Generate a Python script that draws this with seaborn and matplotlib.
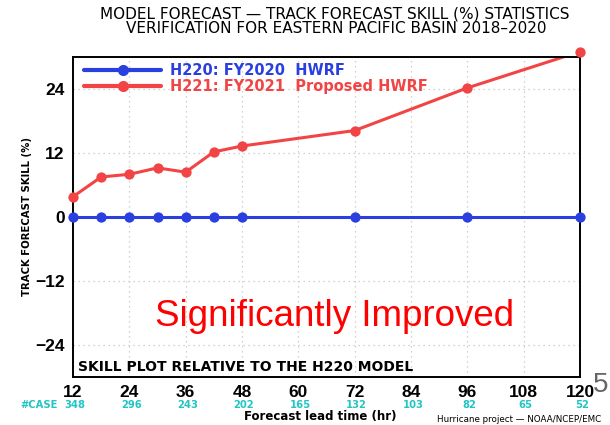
import numpy as np
import pandas as pd
import matplotlib
matplotlib.use("Agg")
import matplotlib.pyplot as plt
import seaborn as sns
from matplotlib.lines import Line2D

# data
lead_hours = [12, 18, 24, 30, 36, 42, 48, 72, 96, 120]
skill_h221 = [3.8, 7.5, 8.0, 9.2, 8.4, 12.2, 13.3, 16.2, 24.2, 31.0]
skill_h220 = [0, 0, 0, 0, 0, 0, 0, 0, 0, 0]
case_hours = [12, 24, 36, 48, 60, 72, 84, 96, 108, 120]
case_counts = [348, 296, 243, 202, 165, 132, 103, 82, 65, 52]
y_ticks = [-24, -12, 0, 12, 24]

red = "#f24444"
blue = "#2a3fe0"
cyan = "#22c4c4"
tickfont = "Liberation Sans"

sns.set_style("white")
plt.rcParams["font.family"] = ["DejaVu Sans"]
plt.rcParams["text.color"] = "black"
plt.rcParams["axes.labelcolor"] = "black"
plt.rcParams["xtick.color"] = "black"
plt.rcParams["ytick.color"] = "black"

fig = plt.figure(figsize=(6.1, 4.25), dpi=100)
ax = fig.add_axes([0.1197, 0.113, 0.8311, 0.753])

df = pd.DataFrame({"hour": lead_hours, "H221": skill_h221, "H220": skill_h220})

sns.lineplot(data=df, x="hour", y="H220", color=blue, linewidth=2.2, ax=ax)
sns.lineplot(data=df, x="hour", y="H221", color=red, linewidth=2.2, ax=ax)
for col, c in [("H220", blue), ("H221", red)]:
    sns.scatterplot(data=df, x="hour", y=col, color=c, s=55, edgecolor=c, linewidth=0, ax=ax, zorder=5)
for coll in ax.collections:
    coll.set_clip_on(False)

ax.set_xlim(12, 120)
ax.set_ylim(-30, 30)
ax.set_xticks(case_hours)
ax.set_yticks(y_ticks)
ax.tick_params(axis="both", width=1.2, length=4, direction="out", colors="black")
ax.tick_params(axis="x", length=0, pad=6)
ax.tick_params(axis="y", pad=2)
ax.set_xticklabels([str(h) for h in case_hours], fontsize=12.5, fontweight="bold", family=tickfont)
ax.set_yticklabels(["\u221224", "\u221212", "0", "12", "24"], fontsize=12.5, fontweight="bold", family=tickfont)
ax.grid(True, linestyle=(0, (1, 3)), color="#c4c4c4", linewidth=0.9)
for s in ax.spines.values():
    s.set_linewidth(1.4)
    s.set_color("black")
ax.set_xlabel("")
ax.set_ylabel("TRACK FORECAST SKILL (%)", fontsize=7.3, fontweight="bold")
ax.yaxis.set_label_coords(-0.08, 0.5)

# legend drawn like the original
handles = [Line2D([0], [0], color=blue, lw=3, marker="o", markersize=7),
           Line2D([0], [0], color=red, lw=3, marker="o", markersize=7)]
leg = ax.legend(handles, ["H220: FY2020  HWRF", "H221: FY2021  Proposed HWRF"],
                loc="upper left", frameon=False, fontsize=10.5, handlelength=5.3,
                handletextpad=0.6, labelspacing=0.1, borderaxespad=0.0,
                bbox_to_anchor=(0.01, 1.0))
for t, c in zip(leg.get_texts(), [blue, red]):
    t.set_color(c)
    t.set_fontweight("bold")

fig.text(0.549, 0.967, "MODEL FORECAST \u2014 TRACK FORECAST SKILL (%) STATISTICS",
         ha="center", va="center", fontsize=11)
fig.text(0.551, 0.933, "VERIFICATION FOR EASTERN PACIFIC BASIN 2018\u20132020",
         ha="center", va="center", fontsize=11)

ax.text(0.01, 0.031, "SKILL PLOT RELATIVE TO THE H220 MODEL", transform=ax.transAxes,
        fontsize=10, fontweight="bold", va="center")
ax.text(0.515, 0.19, "Significantly Improved", transform=ax.transAxes, color="#ff0000",
        fontsize=26.5, family="Liberation Sans", ha="center", va="center")

trans = matplotlib.transforms.blended_transform_factory(ax.transData, fig.transFigure)
for h, n in zip(case_hours, case_counts):
    ax.text(h + 0.4, 0.046, str(n), transform=trans, ha="center", va="center",
            color=cyan, fontsize=7.2, fontweight="bold")
fig.text(0.033, 0.046, "#CASE", color=cyan, fontsize=7.2, fontweight="bold", va="center")

fig.text(0.525, 0.021, "Forecast lead time (hr)", ha="center", va="center",
         fontsize=8.5, fontweight="bold")
fig.text(0.986, 0.014, "Hurricane project \u2014 NOAA/NCEP/EMC", ha="right", va="center",
         fontsize=6.3)
fig.text(0.972, 0.093, "5", color="#666666", fontsize=20, family="Liberation Sans",
         ha="left", va="center")

fig.savefig("out.png", dpi=100)
